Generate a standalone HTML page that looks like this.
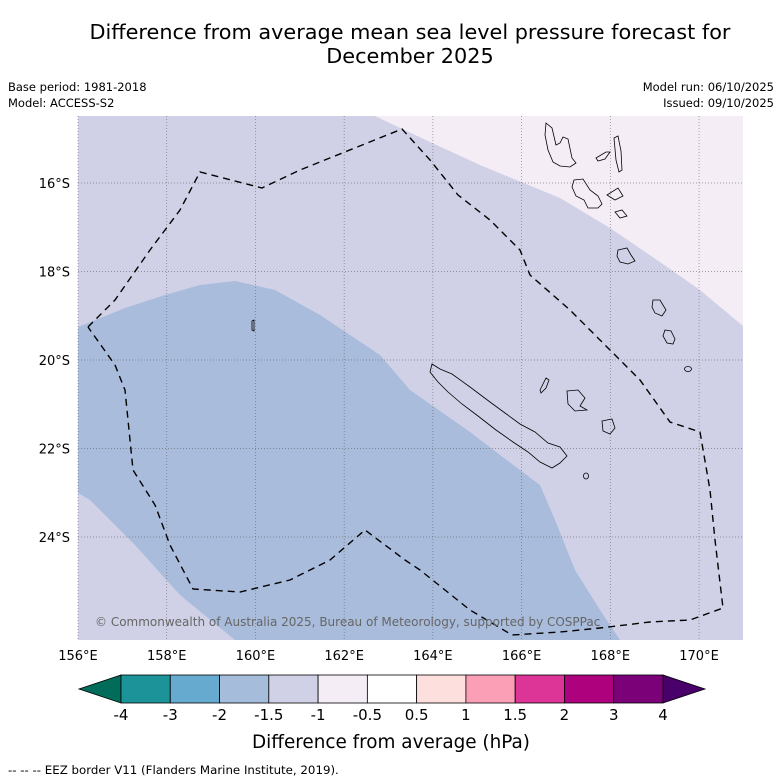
<!DOCTYPE html>
<html><head><meta charset="utf-8">
<style>
html,body{margin:0;padding:0;background:#fff;}
svg{display:block;font-family:"DejaVu Sans","Liberation Sans",sans-serif;}
</style></head>
<body>
<svg id="s" width="781" height="781" viewBox="0 0 781 781" xmlns="http://www.w3.org/2000/svg">
<text x="410" y="39" text-anchor="middle" font-size="20.8">Difference from average mean sea level pressure forecast for</text>
<text x="410" y="63" text-anchor="middle" font-size="20.8">December 2025</text>
<text x="8" y="91" font-size="11.5">Base period: 1981-2018</text>
<text x="8" y="107" font-size="11.5">Model: ACCESS-S2</text>
<text x="774" y="91" font-size="11.5" text-anchor="end">Model run: 06/10/2025</text>
<text x="774" y="107" font-size="11.5" text-anchor="end">Issued: 09/10/2025</text>
<defs><clipPath id="mc"><rect x="78" y="116" width="665" height="524"/></clipPath></defs>
<g id="map" clip-path="url(#mc)">
<rect x="78" y="116" width="665" height="524" fill="#d0d1e6"/>
<polygon fill="#f4edf6" points="375,116 430,142 480,165 560,198 610,228 660,262 700,290 743,326 743,116"/>
<polygon fill="#a9bcdc" points="78,327 125,308 165,295 200,285 235,281 275,290 320,315 380,355 410,390 470,432 500,455 540,485 555,520 575,570 600,610 620,640 235,640 180,595 135,545 90,500 78,493"/>
</g>
<g id="grid"></g>
<g id="land" fill="none" stroke="#000" stroke-width="0.8">
<polygon points="432,364 440,369 452,374 470,387 490,402 505,413 520,424 535,432 548,443 560,447 567,456 560,463 552,468 540,462 528,452 513,442 496,430 478,416 462,404 448,392 438,382 430,372"/>
<polygon points="567,391 578,390 585,398 580,406 587,410 575,411 568,404"/>
<polygon points="540,390 546,378 549,380 546,388 541,393"/>
<polygon points="602,421 612,419 615,428 610,434 603,431"/>
<polygon points="546,123 552,128 556,145 560,143 563,137 568,139 572,158 576,163 570,167 560,166 553,162 548,150 545,135"/>
<polygon points="574,180 583,179 590,190 598,196 602,204 598,208 588,208 584,200 576,196 572,187"/>
<polygon points="618,250 627,248 631,255 635,261 628,264 620,262 617,256"/>
<polygon points="653,300 660,300 666,310 662,316 655,313 652,307"/>
<polygon points="665,330 671,331 675,339 673,344 667,343 663,336"/>
<polygon points="614,138 618,136 621,151 622,170 619,172 616,160"/>
<polygon points="596,158 606,152 610,152 605,159 598,161"/>
<polygon points="607,195 618,188 623,196 615,200"/>
<polygon points="615,212 622,210 627,216 620,218"/>
<ellipse cx="688" cy="369" rx="3.5" ry="2.5"/>
<ellipse cx="586" cy="476" rx="2.5" ry="3"/>
<polygon points="252,321 254,320 254,331 252,330"/>
</g>
<polyline id="eez" fill="none" stroke="#000" stroke-width="1.4" stroke-dasharray="7,5" points="88,327 115,300 150,250 180,210 200,172 262,188 300,170 402,129 430,160 458,195 490,220 520,250 530,275 570,310 605,345 640,380 670,422 700,432 710,490 715,540 723,608 690,620 650,622 600,628 560,632 512,635 470,610 420,570 405,560 365,530 330,560 290,580 240,592 193,589 170,545 155,505 133,470 125,390 115,365 88,327"/>
<text x="95" y="626" font-size="12" fill="#666">© Commonwealth of Australia 2025, Bureau of Meteorology, supported by COSPPac</text>
<g id="axes"></g>
<g id="cbar"></g>
<text x="391" y="748" font-size="18.4" text-anchor="middle">Difference from average (hPa)</text>
<text x="8" y="774" font-size="11.8">--  --  -- EEZ border V11 (Flanders Marine Institute, 2019).</text>
</svg>
<script>
const lonTicks = [156,158,160,162,164,166,168,170];
const latTicks = [16,18,20,22,24];
const cbarLevels = ["-4","-3","-2","-1.5","-1","-0.5","0.5","1","1.5","2","3","4"];
const cbarColors = ["#1b9399","#67aad0","#a6bcdb","#d0d1e6","#f4edf6","#ffffff","#fddfdd","#fa9fb5","#dd3497","#ae017e","#7a0177"];
const cbarLow = "#016c59", cbarHigh = "#49006a";
const NS="http://www.w3.org/2000/svg";
function xLon(l){return 78+(l-156)*44.36;}
function yLat(l){return 183+(l-16)*44.25;}
function mk(tag,attrs,parent){const e=document.createElementNS(NS,tag);for(const k in attrs)e.setAttribute(k,attrs[k]);parent.appendChild(e);return e;}
const grid=document.getElementById('grid'), axes=document.getElementById('axes'), cb=document.getElementById('cbar');
lonTicks.forEach(l=>{
  const x=xLon(l);
  const ln=mk('line',{x1:x,x2:x,y1:116,y2:640,stroke:'#555','stroke-width':0.7,'stroke-dasharray':'1,2',opacity:0.7},grid);
  
  
  const t=mk('text',{x:x,y:660,'font-size':13,'text-anchor':'middle'},axes);
  t.textContent=l+'°E';
  
  
});
latTicks.forEach(l=>{
  const y=yLat(l);
  const ln=mk('line',{x1:78,x2:743,y1:y,y2:y,stroke:'#555','stroke-width':0.7,'stroke-dasharray':'1,2',opacity:0.7},grid);
  
  
  const t=mk('text',{x:70,y:y+5,'font-size':13,'text-anchor':'end'},axes);
  t.textContent=l+'°S';
  
  
});
const x0=121,x1=663,y0=675,y1=703,n=cbarColors.length,w=(x1-x0)/n;
const la=mk('polygon',{points:`${x0},${y0} 79,${(y0+y1)/2} ${x0},${y1}`,fill:cbarLow,stroke:'#000','stroke-width':0.8},cb);


const ra=mk('polygon',{points:`${x1},${y0} 705,${(y0+y1)/2} ${x1},${y1}`,fill:cbarHigh,stroke:'#000','stroke-width':0.8},cb);


cbarColors.forEach((c,i)=>{
  const r=mk('rect',{x:x0+i*w,y:y0,width:w,height:y1-y0,fill:c,stroke:'#000','stroke-width':0.8},cb);
  
  
});
cbarLevels.forEach((v,i)=>{
  const t=mk('text',{x:x0+i*w,y:720,'font-size':15,'text-anchor':'middle'},cb);
  t.textContent=v;
  
  
});
</script>
</body></html>
